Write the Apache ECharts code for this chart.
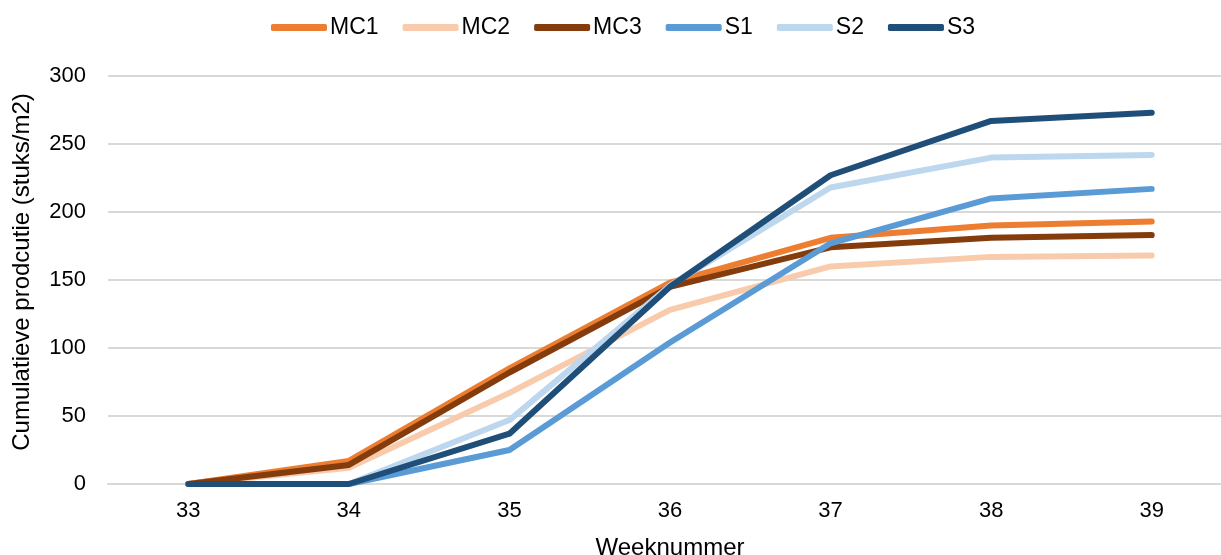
<!DOCTYPE html>
<html>
<head>
<meta charset="utf-8">
<script src="https://cdn.jsdelivr.net/npm/echarts@6/dist/echarts.min.js"></script>
<style>html,body{margin:0;padding:0;background:#fff}#c{width:1221px;height:555px}</style>
</head>
<body>
<div id="c"></div>
<script>
const weeks = ['33', '34', '35', '36', '37', '38', '39'];
const seriesNames = ['MC1', 'MC2', 'MC3', 'S1', 'S2', 'S3'];
const MC1 = [0, 17, 85, 148, 181, 190, 193];
const MC2 = [0, 12, 67, 128, 160, 167, 168];
const MC3 = [0, 14, 82, 145, 174, 181, 183];
const S1 = [0, 0, 25, 104, 177, 210, 217];
const S2 = [0, 0, 47, 146, 218, 240, 242];
const S3 = [0, 0, 37, 145, 227, 267, 273];
const yTicks = [0, 50, 100, 150, 200, 250, 300];
const colors = ['#ED7D31', '#F8CBAD', '#843C0C', '#5B9BD5', '#BDD7EE', '#1F4E79'];
const values = [MC1, MC2, MC3, S1, S2, S3];

const font = 'Liberation Sans, Arial, sans-serif';
const chart = echarts.init(document.getElementById('c'), null, {renderer: 'canvas'});
chart.setOption({
  animation: false,
  color: colors,
  textStyle: {fontFamily: font},
  legend: {
    top: 11,
    left: 266,
    itemWidth: 56,
    itemHeight: 7,
    itemGap: 24,
    icon: 'roundRect',
    textStyle: {fontSize: 23, color: '#000', fontFamily: font, padding: [0, 0, 0, -2]},
    data: seriesNames
  },
  grid: {left: 108, right: -11, top: 76, bottom: 71, containLabel: false, outerBoundsMode: 'none'},
  xAxis: {
    type: 'category',
    data: weeks,
    boundaryGap: true,
    name: 'Weeknummer',
    nameLocation: 'middle',
    nameGap: 52,
    nameTextStyle: {fontSize: 24, color: '#000', fontFamily: font},
    axisLine: {lineStyle: {color: '#D9D9D9', width: 2}},
    axisTick: {show: false},
    axisLabel: {fontSize: 22, color: '#000', margin: 16, fontFamily: font}
  },
  yAxis: {
    type: 'value',
    min: yTicks[0],
    max: yTicks[yTicks.length - 1],
    interval: 50,
    name: 'Cumulatieve prodcutie (stuks/m2)',
    nameLocation: 'middle',
    nameGap: 74,
    nameTextStyle: {fontSize: 24, color: '#000', fontFamily: font, padding: [0, 0, 0, 16]},
    axisLine: {show: false},
    axisTick: {show: false},
    axisLabel: {fontSize: 22, color: '#000', margin: 22, fontFamily: font},
    splitLine: {lineStyle: {color: '#D9D9D9', width: 2}}
  },
  series: seriesNames.map((n, i) => ({
    name: n,
    type: 'line',
    data: values[i],
    symbol: 'none',
    lineStyle: {width: 6, color: colors[i], cap: 'round', join: 'round'},
    itemStyle: {color: colors[i]}
  }))
});
</script>
</body>
</html>
